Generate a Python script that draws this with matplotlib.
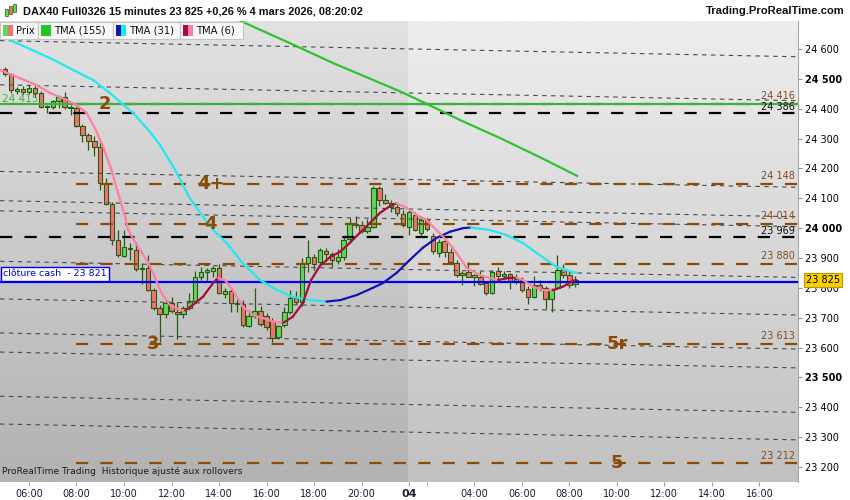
import numpy as np
import matplotlib.pyplot as plt
from matplotlib.patches import Rectangle
from matplotlib.collections import LineCollection
from matplotlib.transforms import blended_transform_factory

W, H = 850, 500

# 15 minute bars: bar 0 = 06:00 (3 mars), bar 64 = 01:15 (4 mars)
bar_idx = list(range(-4, 93))
opens = [24532, 24516, 24460, 24466, 24455, 24468, 24452, 24407, 24406, 24425,
         24440, 24406, 24402, 24342, 24312, 24292, 24271, 24150, 24081, 23960,
         23908, 23935, 23928, 23863, 23866, 23793, 23732, 23712, 23750, 23720,
         23712, 23733, 23755, 23838, 23852, 23858, 23866, 23780, 23788, 23750,
         23745, 23673, 23706, 23722, 23705, 23690, 23635, 23675, 23720, 23765,
         23752, 23882, 23905, 23885, 23925, 23915, 23890, 23902, 23962, 24015,
         24012, 23992, 24005, 24135, 24094, 24085, 24070, 24048, 24005, 24045,
         23985, 24027, 23975, 23918, 23958, 23920, 23884, 23843, 23852, 23838,
         23838, 23815, 23784, 23856, 23840, 23845, 23822, 23828, 23797, 23770,
         23810, 23798, 23763, 23800, 23862, 23843, 23812]
highs = [24540, 24520, 24472, 24475, 24478, 24476, 24458, 24412, 24430, 24446,
         24455, 24412, 24410, 24350, 24318, 24310, 24290, 24168, 24088, 23995,
         23995, 23950, 23955, 23883, 23910, 23800, 23742, 23760, 23770, 23752,
         23740, 23782, 23858, 23870, 23868, 23872, 23880, 23800, 23795, 23762,
         23760, 23725, 23800, 23740, 23715, 23700, 23675, 23735, 23792, 23790,
         23900, 23960, 23915, 23935, 23935, 23920, 23930, 23975, 24035, 24040,
         24025, 24030, 24142, 24140, 24115, 24095, 24080, 24060, 24060, 24055,
         24035, 24035, 23985, 23962, 23965, 23935, 23895, 23858, 23885, 23848,
         23858, 23822, 23860, 23870, 23855, 23850, 23848, 23838, 23805, 23840,
         23826, 23805, 23800, 23910, 23880, 23860, 23840]
lows = [24510, 24452, 24448, 24450, 24448, 24440, 24402, 24386, 24398, 24402,
        24398, 24378, 24338, 24290, 24262, 24240, 24128, 24076, 23945, 23905,
        23904, 23893, 23858, 23813, 23790, 23725, 23620, 23700, 23715, 23630,
        23700, 23725, 23748, 23825, 23820, 23835, 23778, 23765, 23718, 23720,
        23668, 23668, 23700, 23672, 23660, 23620, 23628, 23668, 23712, 23745,
        23740, 23853, 23860, 23875, 23890, 23870, 23880, 23895, 23950, 24000,
        23985, 23985, 24000, 24075, 24080, 24055, 24040, 24005, 23977, 23990,
        23975, 23990, 23915, 23905, 23905, 23880, 23838, 23810, 23836, 23805,
        23810, 23775, 23778, 23830, 23825, 23795, 23812, 23785, 23745, 23765,
        23790, 23730, 23720, 23795, 23832, 23800, 23803]
closes = [24516, 24463, 24466, 24455, 24470, 24452, 24407, 24410, 24425, 24440,
          24406, 24402, 24342, 24312, 24292, 24271, 24150, 24081, 23960, 23910,
          23937, 23930, 23863, 23868, 23793, 23733, 23712, 23748, 23722, 23712,
          23732, 23755, 23838, 23852, 23860, 23866, 23783, 23790, 23750, 23745,
          23675, 23706, 23722, 23678, 23668, 23632, 23672, 23720, 23765, 23752,
          23882, 23902, 23880, 23928, 23915, 23893, 23902, 23960, 24018, 24012,
          23992, 24005, 24135, 24094, 24085, 24070, 24050, 24012, 24055, 23993,
          24027, 23997, 23922, 23955, 23920, 23886, 23843, 23850, 23838, 23842,
          23813, 23782, 23854, 23840, 23845, 23820, 23830, 23793, 23768, 23810,
          23800, 23763, 23796, 23860, 23843, 23810, 23825]

# moving averages (bar position, price)
tma155_x = [34.7, 36.4, 43.9, 51.2, 62.5, 66.7, 72.6, 79.3, 86.0, 92.3]
tma155_y = [24704, 24687, 24620, 24553, 24458, 24419, 24362, 24302, 24238, 24175]

tma31_x = [-5.5, -3.2, 3.5, 8.1, 10.8, 13.6, 17.5, 20.4, 22.1, 24.6, 27.1, 29.6,
           31.0, 33.3, 36.0, 38.9, 41.8, 44.4, 47.3, 50.1, 52.4, 55.2, 57.9, 59.6,
           61.9, 64.1, 66.3, 68.6, 70.9, 73.1, 74.4, 77.6, 80.4, 83.2, 86.0, 88.8,
           91.6, 92.2]
tma31_y = [24655, 24630, 24570, 24523, 24496, 24453, 24386, 24322, 24278, 24195,
           24100, 24030, 23994, 23950, 23883, 23826, 23793, 23770, 23759, 23754,
           23759, 23776, 23800, 23816, 23850, 23893, 23934, 23967, 23988, 24000,
           24002, 23994, 23977, 23950, 23910, 23871, 23852, 23851]

tma6_x = [-4.9, -1.5, 1.3, 3.5, 6.4, 8.0, 9.7, 11.1, 12.5, 13.9, 15.0, 16.2, 16.7,
          17.6, 18.7, 20.0, 21.2, 22.3, 23.7, 25.4, 26.3, 27.6, 29.3, 31.0, 31.8,
          33.0, 34.3, 36.0, 37.7, 39.4, 41.1, 42.8, 44.4, 46.1, 47.5, 49.0, 50.7,
          52.4, 54.0, 55.7, 57.4, 59.1, 60.8, 61.9, 63.6, 65.3, 67.0, 68.6, 70.3,
          72.0, 73.7, 75.9, 77.6, 79.0, 80.6, 82.1, 83.2, 84.9, 86.5, 88.2, 89.9,
          91.6, 92.2]
tma6_y = [24530, 24502, 24479, 24453, 24429, 24412, 24386, 24335, 24272, 24195,
          24118, 24037, 23994, 23962, 23927, 23887, 23836, 23783, 23743, 23726,
          23724, 23743, 23770, 23816, 23833, 23826, 23793, 23737, 23709, 23699,
          23687, 23683, 23703, 23749, 23826, 23874, 23903, 23921, 23950, 23984,
          24017, 24051, 24074, 24083, 24068, 24044, 24027, 23994, 23960, 23917,
          23867, 23843, 23833, 23826, 23833, 23834, 23826, 23804, 23793, 23792,
          23804, 23824, 23826]

# sloping dotted channel lines: price at left edge / right edge
chan_start = [24628, 24480, 24190, 24092, 24058, 23889, 23763, 23649, 23585, 23437, 23344]
chan_end = [24574, 24427, 24137, 24038, 24005, 23835, 23709, 23595, 23532, 23383, 23291]

brown_levels = [24416, 24148, 24014, 23880, 23613, 23212]
black_levels = [24386, 23969]
green_level = 24415
cash_close = 23821
last_price = 23825

wave_labels = [("2", 12.8, 24416), ("4+", 30.6, 24148), ("4", 30.6, 24014),
               ("3", 20.9, 23613), ("5r", 99.0, 23613), ("5", 99.0, 23212)]

time_ticks = [0, 8, 16, 24, 32, 40, 48, 56, 64, 75, 83, 91, 99, 107, 115, 123]
time_labels = ["06:00", "08:00", "10:00", "12:00", "14:00", "16:00", "18:00", "20:00",
               "04", "04:00", "06:00", "08:00", "10:00", "12:00", "14:00", "16:00"]
price_ticks = list(range(23200, 24601, 100))

XMIN, XMAX = -4.88, 129.5
YMIN, YMAX = 23149.8, 24693.8
DAY_SPLIT = 63.8


def fmt(v):
    return f"{v:,}".replace(",", " ")


plt.rcParams['font.family'] = ['DejaVu Sans']
fig = plt.figure(figsize=(W / 100, H / 100), dpi=100, facecolor='white')
ax = fig.add_axes([0, 18 / H, 798 / W, 461 / H])

# background gradients (day 1 slightly darker)
grad = np.linspace(0, 1, 200).reshape(-1, 1)
for x0, x1, top, bot in [(XMIN, DAY_SPLIT, 226, 178), (DAY_SPLIT, XMAX, 238, 193)]:
    g = (top + (bot - top) * grad) / 255.0
    img = np.dstack([g, g, g])
    ax.imshow(img, extent=[x0, x1, YMIN, YMAX], origin='upper', aspect='auto',
              interpolation='bilinear', zorder=0)

ax.set_xlim(XMIN, XMAX)
ax.set_ylim(YMIN, YMAX)

# channel lines
for p0, p1 in zip(chan_start, chan_end):
    ax.plot([XMIN, XMAX], [p0, p1], color='#4a4a4a', lw=0.8,
            linestyle=(0, (4, 4)), zorder=4)

for lv in brown_levels:
    ax.plot([8, XMAX], [lv, lv], color='#8a4a08', lw=1.6,
            linestyle=(0, (5.5, 5.5)), zorder=4)
for lv in black_levels:
    ax.plot([XMIN, XMAX], [lv, lv], color='black', lw=1.6,
            linestyle=(0, (5.5, 5.5)), zorder=4)
ax.axhline(green_level, color='#3cb43c', lw=1.6, zorder=4)
ax.axhline(cash_close, color='#0000ee', lw=1.6, zorder=4)

# candles
o = np.array(opens); c = np.array(closes)
hi = np.array(highs); lo = np.array(lows)
up = c >= o
ax.vlines(bar_idx, lo, hi, color='#2a5a10', lw=0.9, zorder=3)
body_lo = np.minimum(o, c)
body_h = np.maximum(np.abs(c - o), 1.5)
ax.bar(bar_idx, body_h, bottom=body_lo, width=0.75,
       color=np.where(up, '#5fd85a', '#ee7470'), edgecolor='#2a5a10',
       linewidth=0.8, zorder=3)


def two_tone(xs, ys, rise, fall, lw=1.6):
    pts = np.column_stack([xs, ys])
    segs = np.stack([pts[:-1], pts[1:]], axis=1)
    cols = [rise if d > 0 else fall for d in np.diff(ys)]
    ax.add_collection(LineCollection(segs, colors=cols, linewidths=lw,
                                     capstyle='round', joinstyle='round', zorder=6))


ax.plot(tma155_x, tma155_y, color='#2ec42e', lw=1.6, zorder=6)
two_tone(tma31_x, tma31_y, '#1414b4', '#22e8f0')
two_tone(tma6_x, tma6_y, '#a0103c', '#ff7ea2')

# labels on the lines
tr = blended_transform_factory(ax.transAxes, ax.transData)
for lv in brown_levels:
    ax.annotate(fmt(lv), (795 / 798, lv), xycoords=tr, xytext=(0, 5.5),
                textcoords='offset points', ha='right', va='center',
                fontsize=7, color='#8a4a18', zorder=7)
for lv in black_levels:
    ax.annotate(fmt(lv), (795 / 798, lv), xycoords=tr, xytext=(0, 4.5),
                textcoords='offset points', ha='right', va='center',
                fontsize=7, color='#111111', zorder=7)
ax.annotate(fmt(green_level), (2 / 798, green_level), xycoords=tr, xytext=(0, 3.5),
            textcoords='offset points', ha='left', va='center',
            fontsize=7.5, color='#3cb43c', zorder=2)
ax.annotate("clôture cash  - " + fmt(cash_close), (3 / 798, cash_close), xycoords=tr,
            xytext=(0, 5.6), textcoords='offset points', ha='left', va='center',
            fontsize=6.8, color='#0000dd', zorder=8,
            bbox=dict(boxstyle='square,pad=0.25', fc='white', ec='#0000ee', lw=1))

for txt, bx, lv in wave_labels:
    ax.text(bx, lv, txt, ha='center', va='center', fontsize=13, fontweight='bold',
            color='#8a4a08', zorder=7)

ax.text(2 / 798, 6 / 461, "ProRealTime Trading  Historique ajusté aux rollovers",
        transform=ax.transAxes, fontsize=6.6, color='#1a1a2a', va='bottom', zorder=8)

# axes
for s in ['top', 'left', 'bottom']:
    ax.spines[s].set_visible(False)
ax.spines['right'].set_color('#a8a8a8')
ax.yaxis.tick_right()
ax.set_yticks(price_ticks, [fmt(p) for p in price_ticks])
ax.tick_params(axis='y', length=3, color='#909090', labelsize=7, pad=2)
for lab, p in zip(ax.get_yticklabels(), price_ticks):
    if p % 500 == 0:
        lab.set_fontweight('bold')
ax.set_xticks(time_ticks, time_labels)
ax.set_xticks([67], minor=True)
ax.tick_params(axis='x', which='both', length=3, color='#a0a0a0', labelsize=7,
               pad=2, labelcolor='#22183a')
for lab in ax.get_xticklabels():
    if lab.get_text() == "04":
        lab.set_fontweight('bold')
        lab.set_fontsize(8)

ax.annotate(fmt(last_price), (1.0, last_price), xycoords=tr, xytext=(6, 0),
            textcoords='offset points', ha='left', va='center', fontsize=7,
            color='black', annotation_clip=False, zorder=9,
            bbox=dict(boxstyle='square,pad=0.2', fc='#f8d000', ec='#b89a00', lw=0.8))


# header and legend (figure pixel coordinates)
def px_rect(x, y, w, h, **kw):
    fig.add_artist(Rectangle((x / W, 1 - (y + h) / H), w / W, h / H,
                             transform=fig.transFigure, **kw))


def px_text(x, y, s, **kw):
    fig.text(x / W, 1 - y / H, s, va='center', **kw)


for cx, cy, ch, col in [(5, 9, 7, '#5fd85a'), (9, 6, 8, '#ee7470'), (13, 4, 8, '#5fd85a')]:
    px_rect(cx, cy, 3, ch, fc=col, ec='#2a5a10', lw=0.5)
px_text(23, 11, "DAX40 Full0326 15 minutes 23 825 +0,26 % 4 mars 2026, 08:20:02",
        fontsize=7.9, fontweight='bold', color='#111111', family='Liberation Sans')
px_text(845, 11, "Trading.ProRealTime.com", fontsize=8.1, fontweight='bold',
        color='#111111', ha='right', family='Liberation Sans')

legend_items = [(0, 38, "Prix", ('#5fd85a', '#ee7470')),
                (38, 75, "TMA (155)", ('#22c822', '#22c822')),
                (113, 67, "TMA (31)", ('#1414b4', '#22e8f0')),
                (180, 63, "TMA (6)", ('#a0103c', '#ff7ea2'))]
for lx, lw_, name, (c1, c2) in legend_items:
    px_rect(lx, 22, lw_, 17, fc='#f7f7f7', ec='#c4c4c4', lw=0.8)
    px_rect(lx + 3, 25, 5, 11, fc=c1, ec='none')
    px_rect(lx + 8, 25, 5, 11, fc=c2, ec='none')
    px_text(lx + 16, 30.5, name, fontsize=7.2, color='#111111')

fig.savefig("out.png", dpi=100, facecolor='white')
